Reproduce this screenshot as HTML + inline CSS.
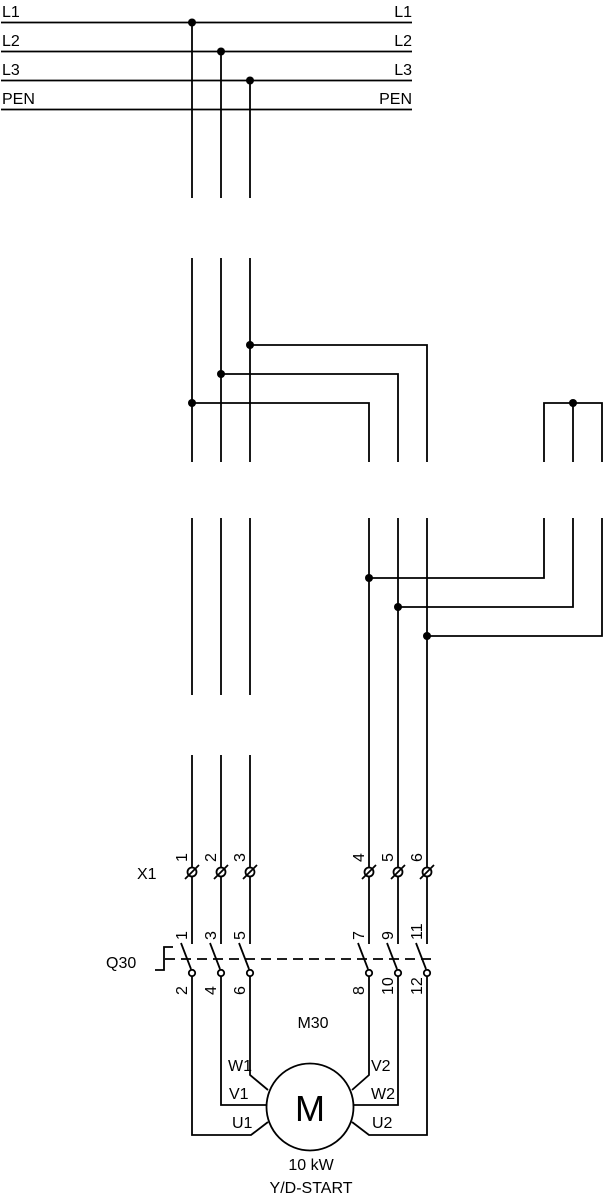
<!DOCTYPE html>
<html><head><meta charset="utf-8"><style>
html,body{margin:0;padding:0;background:#fff}
svg{display:block}
text{font-family:"Liberation Sans","DejaVu Sans",sans-serif;fill:#000}
</style></head><body>
<svg width="604" height="1200" viewBox="0 0 604 1200" xmlns="http://www.w3.org/2000/svg">
<g stroke="#000" stroke-width="1.8" fill="none">
<line x1="1" y1="22.5" x2="412" y2="22.5"/>
<line x1="1" y1="51.5" x2="412" y2="51.5"/>
<line x1="1" y1="80.5" x2="412" y2="80.5"/>
<line x1="1" y1="109.5" x2="412" y2="109.5"/>
<line x1="192" y1="22" x2="192" y2="198"/>
<line x1="221" y1="51" x2="221" y2="198"/>
<line x1="250" y1="80" x2="250" y2="198"/>
<line x1="192" y1="258" x2="192" y2="462"/>
<line x1="221" y1="258" x2="221" y2="462"/>
<line x1="250" y1="258" x2="250" y2="462"/>
<polyline points="250,345 427,345 427,462"/>
<polyline points="221,374 398,374 398,462"/>
<polyline points="192,403 369,403 369,462"/>
<polyline points="544,462 544,403 602,403 602,462"/>
<line x1="573" y1="403" x2="573" y2="462"/>
<line x1="192" y1="518" x2="192" y2="695"/>
<line x1="221" y1="518" x2="221" y2="695"/>
<line x1="250" y1="518" x2="250" y2="695"/>
<line x1="369" y1="518" x2="369" y2="944"/>
<line x1="398" y1="518" x2="398" y2="944"/>
<line x1="427" y1="518" x2="427" y2="944"/>
<polyline points="369,578 544,578 544,518"/>
<polyline points="398,607 573,607 573,518"/>
<polyline points="427,636 602,636 602,518"/>
<line x1="192" y1="755" x2="192" y2="944"/>
<line x1="221" y1="755" x2="221" y2="944"/>
<line x1="250" y1="755" x2="250" y2="944"/>
<g>
<circle cx="192" cy="872" r="4.5" fill="#fff"/><line x1="185" y1="879" x2="199" y2="865"/>
<circle cx="221" cy="872" r="4.5" fill="#fff"/><line x1="214" y1="879" x2="228" y2="865"/>
<circle cx="250" cy="872" r="4.5" fill="#fff"/><line x1="243" y1="879" x2="257" y2="865"/>
<circle cx="369" cy="872" r="4.5" fill="#fff"/><line x1="362" y1="879" x2="376" y2="865"/>
<circle cx="398" cy="872" r="4.5" fill="#fff"/><line x1="391" y1="879" x2="405" y2="865"/>
<circle cx="427" cy="872" r="4.5" fill="#fff"/><line x1="420" y1="879" x2="434" y2="865"/>
</g>
<line x1="181" y1="943" x2="191" y2="969"/>
<line x1="210" y1="943" x2="220" y2="969"/>
<line x1="239" y1="943" x2="249" y2="969"/>
<line x1="358" y1="943" x2="368" y2="969"/>
<line x1="387" y1="943" x2="397" y2="969"/>
<line x1="416" y1="943" x2="426" y2="969"/>
<line x1="165" y1="959" x2="432" y2="959" stroke-dasharray="10,6"/>
<polyline points="173,947 164,947 164,970 155,970"/>
<circle cx="192" cy="973" r="3.2" fill="#fff"/>
<circle cx="221" cy="973" r="3.2" fill="#fff"/>
<circle cx="250" cy="973" r="3.2" fill="#fff"/>
<circle cx="369" cy="973" r="3.2" fill="#fff"/>
<circle cx="398" cy="973" r="3.2" fill="#fff"/>
<circle cx="427" cy="973" r="3.2" fill="#fff"/>
<polyline points="192,976 192,1135 251,1135 268,1122"/>
<polyline points="221,976 221,1105 266,1105"/>
<polyline points="250,976 250,1075 268,1090"/>
<polyline points="427,976 427,1135 369,1135 352,1122"/>
<polyline points="398,976 398,1105 354,1105"/>
<polyline points="369,976 369,1075 352,1090"/>
<circle cx="310" cy="1107" r="43.5"/>
</g>
<g fill="#000">
<circle cx="192" cy="22.5" r="4"/><circle cx="221" cy="51.5" r="4"/><circle cx="250" cy="80.5" r="4"/>
<circle cx="250" cy="345" r="4"/><circle cx="221" cy="374" r="4"/><circle cx="192" cy="403" r="4"/>
<circle cx="573" cy="403" r="4"/>
<circle cx="369" cy="578" r="4"/><circle cx="398" cy="607" r="4"/><circle cx="427" cy="636" r="4"/>
</g>
<g font-size="16">
<text x="2" y="17">L1</text><text x="2" y="46">L2</text><text x="2" y="75">L3</text><text x="2" y="104">PEN</text>
<text x="412" y="17" text-anchor="end">L1</text><text x="412" y="46" text-anchor="end">L2</text><text x="412" y="75" text-anchor="end">L3</text><text x="412" y="104" text-anchor="end">PEN</text>
<text x="137" y="879">X1</text>
<text x="106" y="968">Q30</text>
<text x="313" y="1028" text-anchor="middle">M30</text>
<text x="228" y="1071">W1</text><text x="229" y="1099">V1</text><text x="232" y="1128">U1</text>
<text x="371" y="1071">V2</text><text x="371" y="1099">W2</text><text x="372" y="1128">U2</text>
<text x="311" y="1170" text-anchor="middle">10 kW</text>
<text x="311" y="1193" text-anchor="middle">Y/D-START</text>
<text x="310" y="1121" font-size="36" text-anchor="middle">M</text>
</g>
<g font-size="16">
<text transform="translate(187,862) rotate(-90)">1</text>
<text transform="translate(216,862) rotate(-90)">2</text>
<text transform="translate(245,862) rotate(-90)">3</text>
<text transform="translate(364,862) rotate(-90)">4</text>
<text transform="translate(393,862) rotate(-90)">5</text>
<text transform="translate(422,862) rotate(-90)">6</text>
<text transform="translate(187,940) rotate(-90)">1</text>
<text transform="translate(216,940) rotate(-90)">3</text>
<text transform="translate(245,940) rotate(-90)">5</text>
<text transform="translate(364,940) rotate(-90)">7</text>
<text transform="translate(393,940) rotate(-90)">9</text>
<text transform="translate(422,940) rotate(-90)">11</text>
<text transform="translate(187,995) rotate(-90)">2</text>
<text transform="translate(216,995) rotate(-90)">4</text>
<text transform="translate(245,995) rotate(-90)">6</text>
<text transform="translate(364,995) rotate(-90)">8</text>
<text transform="translate(393,995) rotate(-90)">10</text>
<text transform="translate(422,995) rotate(-90)">12</text>
</g>
</svg>
</body></html>
